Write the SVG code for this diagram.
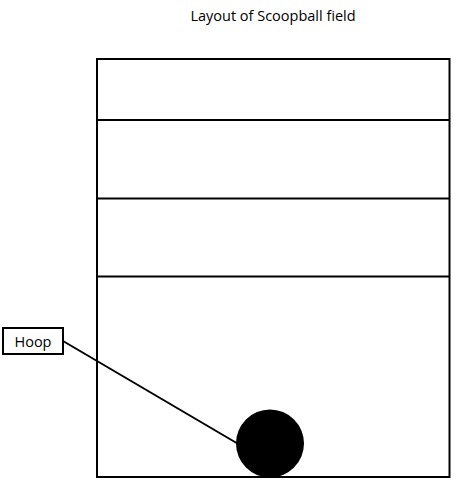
<svg xmlns="http://www.w3.org/2000/svg" width="461" height="480" viewBox="0 0 461 480">
<style>
.t{font-family:"Open Sans","Liberation Sans",sans-serif;font-size:14.5px;fill:#000}
.ln{stroke:#000;stroke-width:2;fill:none}
</style>
<rect width="461" height="480" fill="#fff"/>
<text class="t" x="273" y="21" text-anchor="middle">Layout of Scoopball field</text>
<g id="field">
<rect class="ln" x="97" y="59" width="352.5" height="418"/>
<line class="ln" x1="97" y1="120" x2="449.5" y2="120"/>
<line class="ln" x1="97" y1="198.5" x2="449.5" y2="198.5"/>
<line class="ln" x1="97" y1="276.5" x2="449.5" y2="276.5"/>
</g>
<g id="connectors">
<line class="ln" x1="63" y1="341" x2="240" y2="445"/>
</g>
<g id="hoop-ball">
<circle cx="270" cy="443.5" r="34" fill="#000"/>
</g>
<g id="hoop-label">
<rect class="ln" x="3" y="328" width="60" height="26" fill="#fff"/>
<text class="t" x="33" y="346.5" text-anchor="middle">Hoop</text>
</g>
</svg>
